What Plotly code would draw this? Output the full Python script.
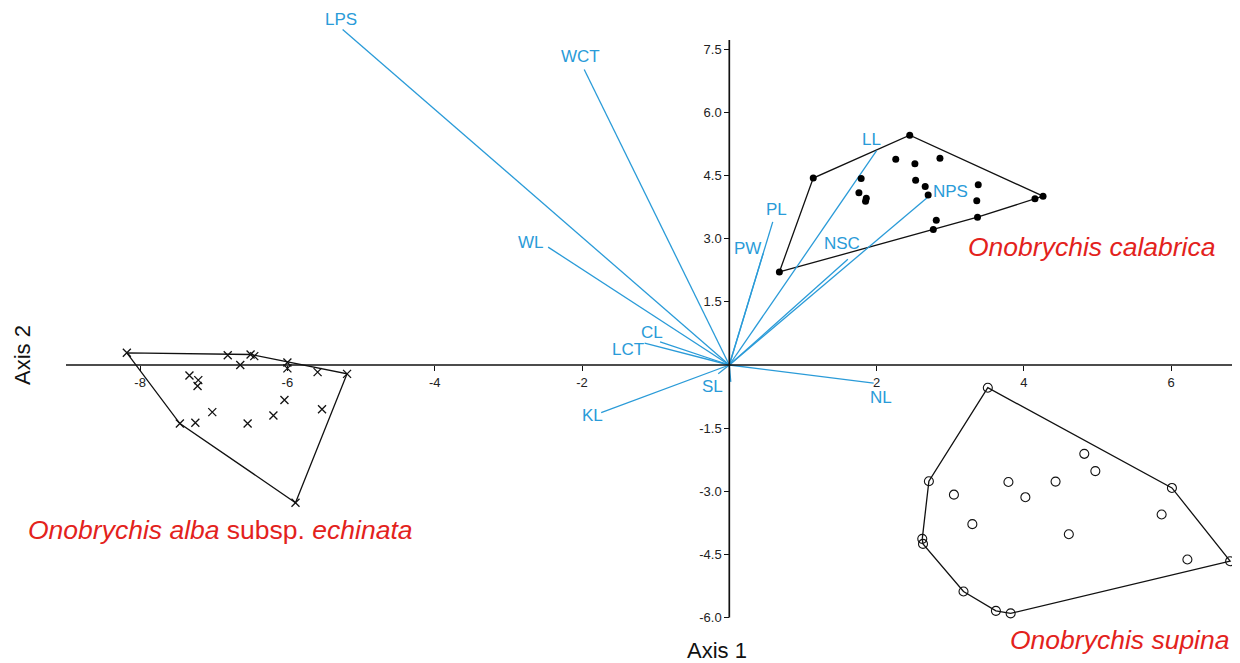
import plotly.graph_objects as go

# ---------------- data ----------------
alba_x = [-8.18, -6.81, -6.50, -6.45, -6.00, -5.19, -5.89, -7.46, -6.64, -6.00,
          -5.59, -7.33, -7.21, -7.22, -6.04, -5.53, -7.02, -6.19, -7.25, -6.54]
alba_y = [0.29, 0.23, 0.25, 0.21, 0.06, -0.21, -3.27, -1.39, 0.00, -0.08,
          -0.17, -0.25, -0.36, -0.50, -0.83, -1.05, -1.12, -1.20, -1.37, -1.39]

calab_x = [0.68, 1.14, 2.45, 4.26, 4.15, 3.37, 2.77, 2.26, 2.52, 2.86,
           1.79, 2.53, 2.66, 3.38, 1.76, 1.86, 1.85, 2.70, 3.36, 2.81]
calab_y = [2.21, 4.44, 5.46, 4.01, 3.95, 3.51, 3.22, 4.89, 4.78, 4.91,
           4.43, 4.39, 4.24, 4.28, 4.09, 3.96, 3.89, 4.04, 3.90, 3.44]

supina_x = [3.51, 6.01, 6.80, 3.82, 3.62, 3.18, 2.63, 2.62, 2.71, 4.82,
            4.97, 3.79, 4.43, 3.05, 4.02, 3.30, 4.61, 5.87, 6.22]
supina_y = [-0.54, -2.92, -4.66, -5.90, -5.84, -5.38, -4.25, -4.13, -2.76, -2.11,
            -2.52, -2.78, -2.77, -3.08, -3.14, -3.78, -4.02, -3.55, -4.62]

var_names = ["LPS", "WCT", "WL", "PL", "PW", "LL", "NPS", "NSC",
             "CL", "LCT", "KL", "SL", "NL", ""]
load_x = [-5.25, -1.97, -2.46, 0.59, 0.46, 2.00, 2.71, 1.61,
          -0.94, -1.15, -1.74, -0.15, 1.96, 0.02]
load_y = [7.97, 7.02, 2.80, 3.40, 2.65, 5.09, 4.01, 2.51,
          0.55, 0.52, -1.13, -0.21, -0.43, -0.40]

x_ticks = [-8, -6, -4, -2, 2, 4, 6]
y_ticks = [-6.0, -4.5, -3.0, -1.5, 1.5, 3.0, 4.5, 6.0, 7.5]

# ---------------- layout constants ----------------
PAGE_W, PAGE_H = 1240, 663
OFF = 8                      # default body margin of the page
W, H = PAGE_W - OFF, PAGE_H - OFF
X0PX, XS = 729.3 - OFF, 73.65   # figure pixel of x=0, px per unit
Y0PX, YS = 365.0 - OFF, 42.1    # figure pixel of y=0, px per unit
x_range = [(0 - X0PX) / XS, (W - X0PX) / XS]
y_range = [(Y0PX - H) / YS, Y0PX / YS]


def px(p):
    return (p - OFF) / W


def py(p):
    return 1 - (p - OFF) / H


BLUE = "#2A9BD8"
RED = "#E3221C"
INK = "#111111"
FONT = "Liberation Sans, Arial, sans-serif"

# label pixel offsets (style only)
label_shift = {
    "LPS": (-2, 10), "WCT": (-4, 13), "WL": (-17, 5), "PL": (4, 12),
    "PW": (-16, 5), "LL": (-5, 11), "NPS": (22, 5), "NSC": (-6, 16),
    "CL": (-8, 9), "LCT": (-17, -6), "KL": (-9, -3), "SL": (-6, -13),
    "NL": (7, -14), "": (0, 0),
}


def convex_hull(xs, ys):
    pts = sorted(set(zip(xs, ys)))

    def cross(o, a, b):
        return (a[0] - o[0]) * (b[1] - o[1]) - (a[1] - o[1]) * (b[0] - o[0])

    lower, upper = [], []
    for p in pts:
        while len(lower) >= 2 and cross(lower[-2], lower[-1], p) <= 0:
            lower.pop()
        lower.append(p)
    for p in reversed(pts):
        while len(upper) >= 2 and cross(upper[-2], upper[-1], p) <= 0:
            upper.pop()
        upper.append(p)
    h = lower[:-1] + upper[:-1]
    h.append(h[0])
    return [p[0] for p in h], [p[1] for p in h]


fig = go.Figure()

# hulls
for xs, ys in [(alba_x, alba_y), (calab_x, calab_y), (supina_x, supina_y)]:
    hx, hy = convex_hull(xs, ys)
    fig.add_trace(go.Scatter(x=hx, y=hy, mode="lines",
                             line=dict(color=INK, width=1.3),
                             hoverinfo="skip", showlegend=False))

# loading vectors
vx, vy = [], []
for lx, ly in zip(load_x, load_y):
    vx += [0, lx, None]
    vy += [0, ly, None]
fig.add_trace(go.Scatter(x=vx, y=vy, mode="lines",
                         line=dict(color=BLUE, width=1.3),
                         hoverinfo="skip", showlegend=False))

# points
fig.add_trace(go.Scatter(x=alba_x, y=alba_y, mode="markers",
                         marker=dict(symbol="x-thin-open", size=8, color=INK,
                                     line=dict(color=INK, width=1.3)),
                         showlegend=False))
fig.add_trace(go.Scatter(x=calab_x, y=calab_y, mode="markers",
                         marker=dict(symbol="circle", size=7, color="#000000"),
                         showlegend=False))
fig.add_trace(go.Scatter(x=supina_x, y=supina_y, mode="markers",
                         marker=dict(symbol="circle-open", size=9, color=INK,
                                     line=dict(color=INK, width=1.1)),
                         showlegend=False))

annotations = []
for name, lx, ly in zip(var_names, load_x, load_y):
    if not name:
        continue
    dx, dy = label_shift[name]
    annotations.append(dict(x=lx, y=ly, xref="x", yref="y", text=name,
                            showarrow=False, xshift=dx, yshift=dy,
                            xanchor="center", yanchor="middle",
                            font=dict(family=FONT, size=17, color=BLUE)))

annotations += [
    dict(x=px(1091), y=py(247), xref="paper", yref="paper",
         xanchor="center", yanchor="middle",
         text="<i>Onobrychis calabrica</i>", showarrow=False,
         font=dict(family=FONT, size=26.5, color=RED)),
    dict(x=px(1119), y=py(640), xref="paper", yref="paper",
         xanchor="center", yanchor="middle",
         text="<i>Onobrychis supina</i>", showarrow=False,
         font=dict(family=FONT, size=26.5, color=RED)),
    dict(x=px(26), y=py(530), xref="paper", yref="paper",
         xanchor="left", yanchor="middle",
         text="<i>Onobrychis alba</i> subsp. <i>echinata</i>", showarrow=False,
         font=dict(family=FONT, size=26.5, color=RED)),
    dict(x=px(717), y=py(650), xref="paper", yref="paper",
         xanchor="center", yanchor="middle",
         text="Axis 1", showarrow=False,
         font=dict(family=FONT, size=22, color=INK)),
    dict(x=px(22), y=py(355), xref="paper", yref="paper",
         xanchor="center", yanchor="middle",
         text="Axis 2", showarrow=False, textangle=-90,
         font=dict(family=FONT, size=22, color=INK)),
]

shapes = [
    dict(type="line", xref="x", yref="y", x0=(66 - OFF - X0PX) / XS, x1=x_range[1],
         y0=0, y1=0, line=dict(color=INK, width=1.7)),
    dict(type="line", xref="x", yref="y", x0=0, x1=0,
         y0=-6.0, y1=(Y0PX - (40 - OFF)) / YS, line=dict(color=INK, width=1.7)),
]

fig.update_layout(
    width=W, height=H,
    margin=dict(l=0, r=0, t=0, b=0),
    paper_bgcolor="white", plot_bgcolor="white",
    showlegend=False,
    annotations=annotations,
    shapes=shapes,
    font=dict(family=FONT),
    xaxis=dict(range=x_range, anchor="free", position=(H - Y0PX) / H,
               showgrid=False, zeroline=False, showline=False,
               tickvals=x_ticks, ticktext=[str(v) for v in x_ticks],
               ticks="outside", ticklen=5, tickwidth=1.3, tickcolor=INK,
               tickfont=dict(family=FONT, size=13, color="#222222"),
               automargin=False, fixedrange=True),
    yaxis=dict(range=y_range, anchor="free", position=X0PX / W,
               showgrid=False, zeroline=False, showline=False,
               tickvals=y_ticks, ticktext=[f"{v:.1f}" for v in y_ticks],
               ticks="outside", ticklen=5, tickwidth=1.3, tickcolor=INK,
               tickfont=dict(family=FONT, size=13, color="#222222"),
               automargin=False, fixedrange=True),
)

fig.write_html("out.html")
